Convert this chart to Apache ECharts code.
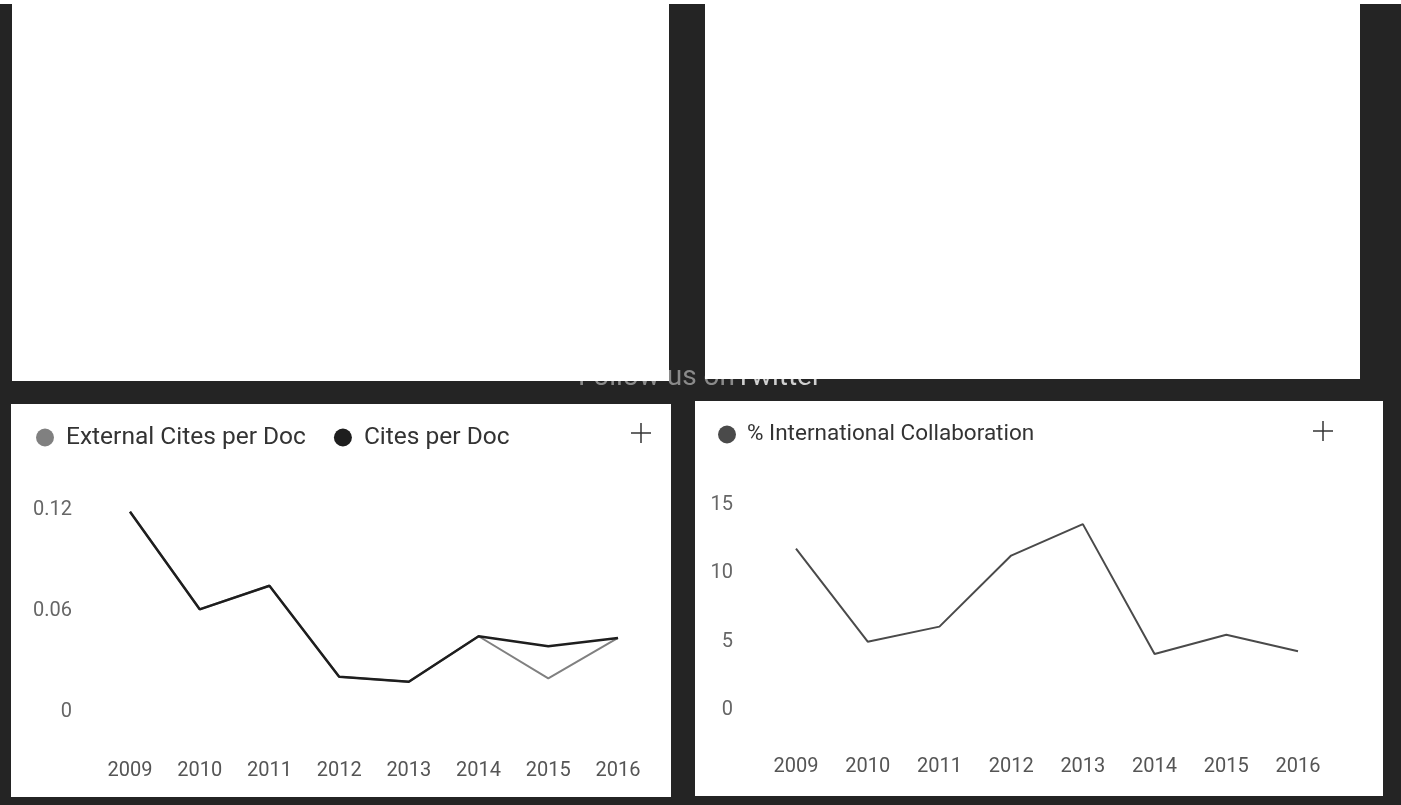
<!DOCTYPE html>
<html>
<head>
<meta charset="utf-8">
<script src="https://cdn.jsdelivr.net/npm/echarts@6/dist/echarts.min.js"></script>
<style>
html, body { margin: 0; padding: 0; background: #fff; }
#chart { width: 1401px; height: 805px; }
</style>
</head>
<body>
<div id="chart"></div>
<script>
var years = ['2009', '2010', '2011', '2012', '2013', '2014', '2015', '2016'];
var externalCitesPerDoc = [0.119, 0.061, 0.075, 0.021, 0.018, 0.045, 0.020, 0.044];
var citesPerDoc = [0.119, 0.061, 0.075, 0.021, 0.018, 0.045, 0.039, 0.044];
var intlCollaboration = [11.8, 5.0, 6.1, 11.3, 13.6, 4.1, 5.5, 4.3];
var citesTicks = [0, 0.06, 0.12];
var collabTicks = [0, 5, 10, 15];

var FONT = 'Roboto, "Noto Sans", sans-serif';
var DARK = '#242424';

function rect(x, y, w, h, fill, z) {
    return { type: 'rect', z: z, silent: true, shape: { x: x, y: y, width: w, height: h }, style: { fill: fill } };
}

function plusIcon(cx, cy) {
    return {
        type: 'group', silent: true, children: [
            { type: 'line', shape: { x1: cx - 10, y1: cy, x2: cx + 10, y2: cy }, style: { stroke: '#333', lineWidth: 1.5 } },
            { type: 'line', shape: { x1: cx, y1: cy - 10, x2: cx, y2: cy + 10 }, style: { stroke: '#333', lineWidth: 1.5 } }
        ]
    };
}

function valueAxis(gridIndex, ticks, margin) {
    return {
        type: 'value',
        gridIndex: gridIndex,
        min: ticks[0],
        max: ticks[ticks.length - 1],
        interval: ticks[1] - ticks[0],
        axisLine: { show: false },
        axisTick: { show: false },
        splitLine: { show: false },
        axisLabel: { color: '#666', fontSize: 20, fontFamily: FONT, margin: margin }
    };
}

function categoryAxis(gridIndex, margin) {
    return {
        type: 'category',
        gridIndex: gridIndex,
        data: years,
        boundaryGap: false,
        axisLine: { show: false },
        axisTick: { show: false },
        axisLabel: { color: '#555', fontSize: 20, fontFamily: FONT, margin: margin }
    };
}

var option = {
    animation: false,
    backgroundColor: 'transparent',
    graphic: [
        rect(0, 4, 1401, 801, DARK, -3),
        {
            type: 'text', z: -2, silent: true, left: 578, top: 364,
            style: { text: 'Follow us on', fill: '#8a8a8a', font: '28px ' + FONT }
        },
        {
            type: 'text', z: -2, silent: true, left: 735, top: 364,
            style: { text: 'Twitter', fill: '#d0d0d0', font: '28px ' + FONT }
        },
        rect(12, 0, 657, 381, '#fff', -1),
        rect(705, 0, 655, 379, '#fff', -1),
        rect(11, 404, 660, 393, '#fff', -1),
        rect(695, 401, 688, 395, '#fff', -1),
        plusIcon(641, 433),
        plusIcon(1323, 431)
    ],
    legend: [{
        data: ['External Cites per Doc', 'Cites per Doc'],
        left: 31, top: 420,
        icon: 'circle', itemWidth: 30, itemHeight: 18, itemGap: 28,
        textStyle: { fontSize: 24.5, color: '#333', fontFamily: FONT, padding: [0, 0, 0, 1] }
    }, {
        data: ['% International Collaboration'],
        left: 713, top: 418,
        icon: 'circle', itemWidth: 30, itemHeight: 18,
        textStyle: { fontSize: 22.5, color: '#333', fontFamily: FONT, padding: [0, 0, 0, 0] }
    }],
    grid: [
        { left: 130, right: 783, top: 510, bottom: 93 },
        { left: 796, right: 103, top: 505, bottom: 95 }
    ],
    xAxis: [categoryAxis(0, 49), categoryAxis(1, 47)],
    yAxis: [valueAxis(0, citesTicks, 58), valueAxis(1, collabTicks, 63)],
    series: [{
        name: 'External Cites per Doc',
        type: 'line', xAxisIndex: 0, yAxisIndex: 0,
        data: externalCitesPerDoc,
        showSymbol: false,
        itemStyle: { color: '#808080' },
        lineStyle: { color: '#808080', width: 2 }
    }, {
        name: 'Cites per Doc',
        type: 'line', xAxisIndex: 0, yAxisIndex: 0,
        data: citesPerDoc,
        showSymbol: false,
        itemStyle: { color: '#1e1e1e' },
        lineStyle: { color: '#1e1e1e', width: 2.5 }
    }, {
        name: '% International Collaboration',
        type: 'line', xAxisIndex: 1, yAxisIndex: 1,
        data: intlCollaboration,
        showSymbol: false,
        itemStyle: { color: '#4a4a4a' },
        lineStyle: { color: '#4a4a4a', width: 2 }
    }]
};

var chart = echarts.init(document.getElementById('chart'));
chart.setOption(option);
</script>
</body>
</html>
